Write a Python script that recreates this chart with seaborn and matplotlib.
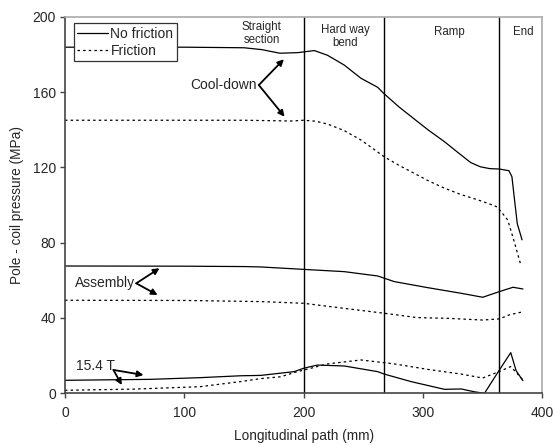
import matplotlib
matplotlib.use("Agg")
import matplotlib.pyplot as plt
import seaborn as sns
import pandas as pd

# ---- data ----
cd_nf_x = [0, 50, 100, 150, 165, 180, 195, 200, 209, 220, 234, 248, 262, 267, 280, 290, 304, 318, 330, 340, 348, 356, 364, 372, 374.5, 376.7, 379, 383]
cd_nf_y = [183.8, 183.8, 183.8, 183.5, 182.5, 180.6, 180.9, 181.3, 182, 179.5, 174.3, 167.3, 162.5, 159.3, 152, 147, 140, 133.6, 127.5, 122.5, 120.3, 119.3, 119.1, 118.2, 115, 102.6, 90, 81.5]

cd_f_x = [0, 100, 150, 190, 200, 210, 220, 234, 248, 258, 267.5, 280, 290, 304, 318, 332, 346, 356, 362, 366, 371, 376, 382]
cd_f_y = [145, 145, 145, 144.6, 145, 144.5, 143, 139.5, 134.5, 130, 125.6, 121, 117.7, 113, 108.9, 105.5, 102.7, 100.5, 99, 96, 92, 81.4, 68]

as_nf_x = [0, 100, 150, 164, 200, 234, 262, 276, 304, 332, 350, 364, 375.4, 383.7]
as_nf_y = [67.6, 67.5, 67.3, 67.1, 65.8, 64.6, 62.3, 59.3, 56.1, 53.1, 51, 54, 56.3, 55.4]

as_f_x = [0, 100, 164, 200, 234, 267.5, 295, 321, 350, 364, 372, 383.7]
as_f_y = [49.4, 49.3, 48.7, 47.8, 45.1, 42.5, 40.2, 39.8, 38.9, 39.5, 41.6, 43.3]

hf_nf_x = [0, 71, 113, 147, 164, 192, 200, 211.5, 234, 262, 267.5, 290, 318, 332, 343, 351.5, 364, 373.5, 378, 383.7]
hf_nf_y = [6.9, 7.4, 8.3, 9.3, 9.5, 11.5, 13.3, 15, 14.5, 11.5, 10.2, 6.2, 2.1, 2.3, 0.8, 0, 12.4, 21.6, 12, 6.7]

hf_f_x = [0, 57, 113, 147, 164, 181, 192, 220, 248, 276, 304, 332, 350, 364, 373.5, 383.7]
hf_f_y = [1.6, 2.2, 3.5, 6.2, 7.8, 8.8, 11, 15.6, 17.7, 15.6, 12.7, 10.2, 8.1, 11.6, 14.2, 7.1]

section_edges = [200, 267, 364]
section_labels = ["Straight\nsection", "Hard way\nbend", "Ramp", "End"]
section_label_x = [165, 235, 322, 384]

x_ticks = [0, 100, 200, 300, 400]
y_ticks = [0, 40, 80, 120, 160, 200]

# ---- build long table ----
frames = []
for name, fr, xs, ys in [
    ("cool", "No friction", cd_nf_x, cd_nf_y),
    ("cool", "Friction", cd_f_x, cd_f_y),
    ("asm", "No friction", as_nf_x, as_nf_y),
    ("asm", "Friction", as_f_x, as_f_y),
    ("hf", "No friction", hf_nf_x, hf_nf_y),
    ("hf", "Friction", hf_f_x, hf_f_y),
]:
    frames.append(pd.DataFrame({"x": xs, "p": ys, "case": name + fr, "friction": fr}))
df = pd.concat(frames, ignore_index=True)

sns.set_style("ticks")
plt.rcParams["font.family"] = ["Liberation Sans", "DejaVu Sans"]

fig = plt.figure(figsize=(5.54, 4.45), dpi=100)
ax = fig.add_axes([0.1173, 0.1162, 0.979 - 0.1173, 0.9625 - 0.1162])

sns.lineplot(data=df, x="x", y="p", style="friction", units="case", estimator=None,
             color="black", linewidth=0.9, sort=False,
             style_order=["No friction", "Friction"],
             dashes={"No friction": "", "Friction": (2, 2.5)}, ax=ax)

for xe in section_edges:
    ax.axvline(xe, color="black", lw=1.0)

ax.set_xlim(0, 400)
ax.set_ylim(0, 200)
ax.set_xticks(x_ticks)
ax.set_yticks(y_ticks)
ax.tick_params(axis="both", labelsize=10, direction="out", length=3.5, width=1, color="#444")
ax.tick_params(axis="y", pad=3)
ax.tick_params(axis="x", pad=6)
ax.set_xlabel("Longitudinal path (mm)", fontsize=9.8)
ax.xaxis.set_label_coords(0.5, -0.0935)
ax.set_ylabel("Pole - coil pressure (MPa)", fontsize=9.8, labelpad=6)

for s in ["left", "bottom"]:
    ax.spines[s].set_color("#444")
    ax.spines[s].set_linewidth(1.2)
for s in ["top", "right"]:
    ax.spines[s].set_color("#aaaaaa")
    ax.spines[s].set_linewidth(1.2)
    ax.spines[s].set_visible(True)

# section labels
ax.text(section_label_x[0], 197.5, section_labels[0], ha="center", va="top", fontsize=8.3, linespacing=1.1)
ax.text(section_label_x[1], 196, section_labels[1], ha="center", va="top", fontsize=8.3, linespacing=1.1)
ax.text(section_label_x[2], 195, section_labels[2], ha="center", va="top", fontsize=8.3)
ax.text(section_label_x[3], 195, section_labels[3], ha="center", va="top", fontsize=8.3)

# annotations
arrow = dict(arrowstyle="-|>", color="black", lw=1.3, mutation_scale=9, shrinkA=0, shrinkB=0)
ax.text(161, 163.7, "Cool-down", ha="right", va="center", fontsize=10)
ax.annotate("", xy=(183.4, 177.4), xytext=(162.4, 163.7), arrowprops=arrow)
ax.annotate("", xy=(184, 146.9), xytext=(162.4, 163.7), arrowprops=arrow)

ax.text(59, 58.4, "Assembly", ha="right", va="center", fontsize=10)
ax.annotate("", xy=(79.2, 66.4), xytext=(59.7, 58.4), arrowprops=arrow)
ax.annotate("", xy=(77.6, 52.2), xytext=(59.7, 58.4), arrowprops=arrow)

ax.text(9, 14.5, "15.4 T", ha="left", va="center", fontsize=10)
ax.annotate("", xy=(65.8, 9.7), xytext=(40.6, 12.4), arrowprops=arrow)
ax.annotate("", xy=(47.6, 4.4), xytext=(40.6, 12.4), arrowprops=arrow)

handles, labels = ax.get_legend_handles_labels()
pairs = [(h, l) for h, l in zip(handles, labels) if l in ("No friction", "Friction")]
leg = ax.legend([p[0] for p in pairs], [p[1] for p in pairs], loc="upper left",
                bbox_to_anchor=(0.018, 0.982), fontsize=10, frameon=True, fancybox=False,
                edgecolor="#333", framealpha=1, handlelength=2.2, handletextpad=0.2,
                borderpad=0.25, labelspacing=0.2, borderaxespad=0)
leg.get_frame().set_linewidth(0.9)
for h in leg.get_lines():
    h.set_color("black")
    h.set_linewidth(0.9)

fig.savefig("out.png", dpi=100)
